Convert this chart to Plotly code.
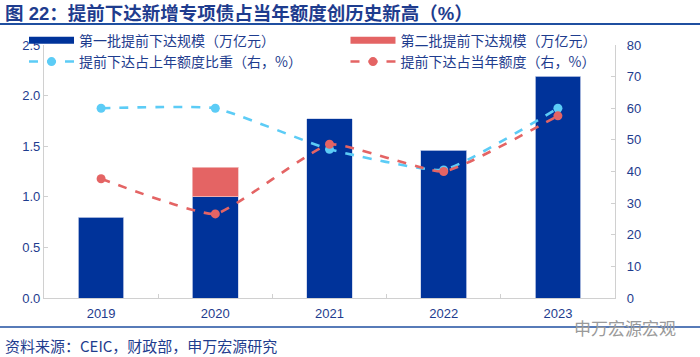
import plotly.graph_objects as go

years = ["2019", "2020", "2021", "2022", "2023"]
batch1 = [0.80, 1.00, 1.77, 1.46, 2.19]
batch2 = [None, 0.29, None, None, None]
share_prev = [60.0, 60.0, 47.0, 40.5, 60.0]
share_curr = [37.7, 26.6, 48.6, 40.0, 57.6]

names = ["第一批提前下达规模（万亿元）", "第二批提前下达规模（万亿元）",
         "提前下达占上年额度比重（右，%）", "提前下达占当年额度（右，%）"]

BLUE = "#00339A"
RED = "#E46464"
CYAN = "#5CCCF6"
TXT = "#1E3C8E"
FONT = "Arial, Liberation Sans, Noto Sans CJK SC"

fig = go.Figure()
# bars (legend shown through swatch-only entries below)
fig.add_trace(go.Bar(x=years, y=batch1, name=names[0], showlegend=False,
                     marker=dict(color=BLUE, line=dict(color="#C9D2EA", width=0.8))))
fig.add_trace(go.Bar(x=years, y=batch2, name=names[1], showlegend=False,
                     marker=dict(color=RED, line=dict(color="#F2C0C0", width=0.8))))
# legend swatches for the bars (wide rectangles as in the reference)
fig.add_trace(go.Scatter(x=[None], y=[None], name=names[0], mode="lines",
                         line=dict(color=BLUE, width=7), legend="legend", legendgroup="a"))
fig.add_trace(go.Scatter(x=[None], y=[None], name=names[1], mode="lines",
                         line=dict(color=RED, width=7), legend="legend2", legendgroup="b"))
fig.add_trace(go.Scatter(x=years, y=share_prev, name=names[2],
                         yaxis="y2", mode="lines+markers", legend="legend", legendgroup="c",
                         line=dict(color=CYAN, width=2.6, dash="dash", shape="spline", smoothing=0.4),
                         marker=dict(color=CYAN, size=9)))
fig.add_trace(go.Scatter(x=years, y=share_curr, name=names[3],
                         yaxis="y2", mode="lines+markers", legend="legend2", legendgroup="d",
                         line=dict(color=RED, width=2.6, dash="dash", shape="spline", smoothing=0.4),
                         marker=dict(color=RED, size=9)))

leg_common = dict(orientation="v", yanchor="top", xanchor="left", traceorder="normal",
                  font=dict(size=14, color=TXT, family="Noto Sans CJK SC"),
                  bgcolor="rgba(0,0,0,0)", itemwidth=45, tracegroupgap=4,
                  itemclick=False, itemdoubleclick=False)

fig.update_layout(
    width=700, height=357,
    margin=dict(l=44, r=85, t=45, b=59),
    paper_bgcolor="white", plot_bgcolor="white",
    barmode="stack", bargap=0.6,
    font=dict(family=FONT, color=TXT, size=13),
    showlegend=True,
    legend=dict(x=-0.035, y=1.08, **leg_common),
    legend2=dict(x=0.528, y=1.08, **leg_common),
    xaxis=dict(showline=True, linecolor="#D0D0D0", linewidth=1.2,
               ticks="inside", tickson="boundaries", ticklen=4, tickcolor="#D0D0D0",
               tickfont=dict(size=13, color=TXT), showgrid=False, ticklabelstandoff=3),
    yaxis=dict(range=[0, 2.5], dtick=0.5, tickformat=".1f", showgrid=False,
               showline=True, linecolor="#D0D0D0", linewidth=1.2,
               ticks="inside", ticklen=4, tickcolor="#D0D0D0",
               tickfont=dict(size=13, color=TXT), zeroline=False),
    yaxis2=dict(range=[0, 80], dtick=10, overlaying="y", side="right", showgrid=False,
                showline=True, linecolor="#D0D0D0", linewidth=1.2,
                ticks="inside", ticklen=4, tickcolor="#D0D0D0",
                tickfont=dict(size=13, color=TXT), zeroline=False,
                ticklabelstandoff=8),
)

PH = 253.0
fig.add_annotation(text="<b>图 22：提前下达新增专项债占当年额度创历史新高（%）</b>",
                   xref="paper", yref="paper", x=-41 / 571, y=1 + 32 / PH,
                   xanchor="left", yanchor="middle", showarrow=False,
                   font=dict(size=18.5, color=TXT, family="Arial, Noto Sans CJK SC"))
fig.add_annotation(text="资料来源：CEIC，财政部，申万宏源研究",
                   xref="paper", yref="paper", x=-41 / 571, y=-47 / PH,
                   xanchor="left", yanchor="middle", showarrow=False,
                   font=dict(size=15, color=TXT, family="Noto Sans CJK SC"))
fig.add_shape(type="line", xref="paper", yref="paper", x0=-44 / 571, x1=656 / 571,
              y0=1 + 21 / PH, y1=1 + 21 / PH, line=dict(color="#1F4FA0", width=2))
fig.add_shape(type="line", xref="paper", yref="paper", x0=-44 / 571, x1=656 / 571,
              y0=-29 / PH, y1=-29 / PH, line=dict(color="#1F4FA0", width=1.5))
fig.add_annotation(text="申万宏源宏观",
                   xref="paper", yref="paper", x=(678 - 44) / 571, y=-29 / PH,
                   xanchor="right", yanchor="middle", showarrow=False,
                   font=dict(size=17, color="#9A9A9A", family="Noto Sans CJK SC"))

fig.write_html("out.html", config={"displayModeBar": False},
               post_script="document.body.style.margin='0';")
